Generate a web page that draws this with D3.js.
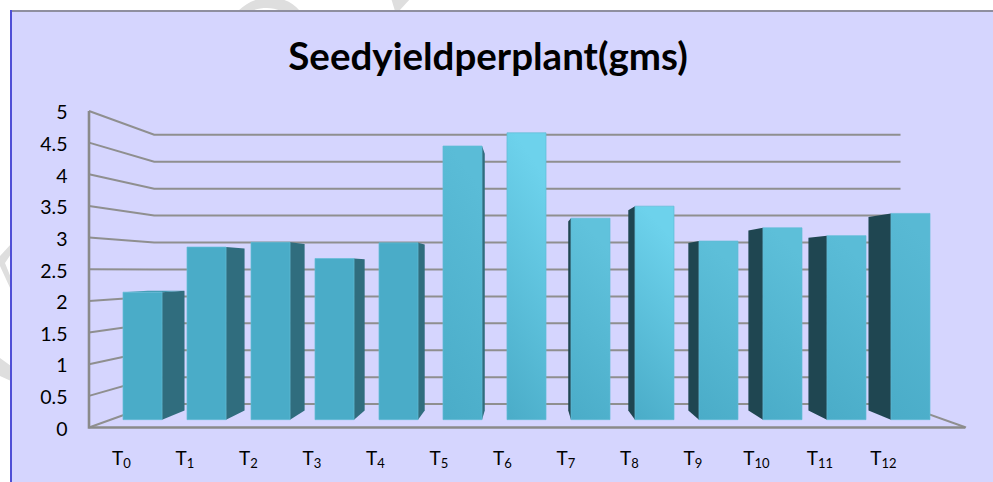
<!DOCTYPE html>
<html>
<head>
<meta charset="utf-8">
<script src="https://cdn.jsdelivr.net/npm/d3@7"></script>
<style>
html, body { margin: 0; padding: 0; background: #fff; }
svg { display: block; }
text { font-family: Lato, "Open Sans", sans-serif; fill: #000; }
</style>
</head>
<body>
<script>
const titleText = "Seedyieldperplant(gms)";
const treatments = ["0", "1", "2", "3", "4", "5", "6", "7", "8", "9", "10", "11", "12"];
const seedYield = [2.12, 2.87, 2.95, 2.68, 2.94, 4.55, 4.77, 3.35, 3.55, 2.97, 3.19, 3.06, 3.43];
const yTicks = [0, 0.5, 1, 1.5, 2, 2.5, 3, 3.5, 4, 4.5, 5];

// colour at the top of each bar's gradient
const barTopShade = ["#4aacc8", "#4aacc8", "#4aacc8", "#4aacc8", "#4aacc8", "#5abcd7", "#6dd2ec",
    "#60c2dc", "#6dd2ec", "#5dbfd9", "#5dbfd9", "#5abcd7", "#58b9d4"];

const width = 993, height = 482;

// One point perspective, everything recedes to this point
const vanish = { x: 526.5, y: 270.6 };
const wallDepth = 0.851;    // back wall
const barFront = 0.95;      // front face of the bars
const barBack = 0.8914;     // back face of the bars

function project(x, y, s) {
    return [vanish.x + (x - vanish.x) * s, vanish.y + (y - vanish.y) * s];
}

// x is already in front face pixels here, y comes from the front plane scale
function barPoint(x, yPos, s) {
    return [vanish.x + (x - vanish.x) * s / barFront, vanish.y + (yPos - vanish.y) * s];
}

const svg = d3.select("body").append("svg")
    .attr("width", width)
    .attr("height", height);

// Faint watermark showing through on the white margin
svg.append("g").attr("fill", "#dedede")
    .selectAll("path")
    .data([
        "M238,11 C248,2 256,-2 270,-2 C284,-2 292,2 300,11 L281,11 C272,7 262,7 251,11 Z",
        "M391,-2 L411,-2 L399,11 L395,11 Z",
        "M11,244 L0,256 L0,266 L11,290 L11,278 L5,263 L11,254 Z",
        "M0,358 L11,366 L11,381 L0,376 Z"
    ])
    .join("path")
    .attr("d", d => d);

// Chart panel
svg.append("rect")
    .attr("x", 11).attr("y", 11)
    .attr("width", width - 11).attr("height", height - 11)
    .attr("fill", "#d5d5fe");
svg.append("line")
    .attr("x1", 10).attr("x2", width).attr("y1", 11).attr("y2", 11)
    .attr("stroke", "#8f8f9f").attr("stroke-width", 2);
svg.append("line")
    .attr("x1", 11).attr("x2", 11).attr("y1", 10).attr("y2", height)
    .attr("stroke", "#4f4fd6").attr("stroke-width", 2);

svg.append("text")
    .attr("x", 488).attr("y", 70)
    .attr("text-anchor", "middle")
    .attr("font-size", 38.5)
    .attr("font-weight", 700)
    .text(titleText);

// Scales are set on the front plane of the box
const y = d3.scaleLinear().domain([0, 5]).range([427.5, 111]);
const frontLeft = 89, frontRight = 966;

const xBar = d3.scaleBand()
    .domain(treatments)
    .range([123, 930])
    .paddingInner(0.39);

const xLabel = d3.scalePoint()
    .domain(treatments)
    .range([121, 883]);

// Gridlines along left wall and back wall
const wallLine = d3.line();
svg.append("g").selectAll("path")
    .data(yTicks)
    .join("path")
    .attr("fill", "none")
    .attr("stroke", "#8f8f8f")
    .attr("stroke-width", 2)
    .attr("d", d => {
        let back = project(frontLeft, y(d), wallDepth);
        let backEnd = project(frontRight, y(d), wallDepth);
        return wallLine([[frontLeft, y(d)], back, backEnd]);
    });

// Floor
svg.append("path")
    .attr("fill", "none")
    .attr("stroke", "#8f8f8f")
    .attr("stroke-width", 2)
    .attr("d", wallLine([project(frontRight, y(0), wallDepth), [frontRight, y(0)]]));

svg.append("path")
    .attr("fill", "none")
    .attr("stroke", "#8a8a8a")
    .attr("stroke-width", 2.6)
    .attr("d", wallLine([[frontLeft, y(5)], [frontLeft, y(0)], [frontRight - 1, y(0)]]));

// Bar gradients
const defs = svg.append("defs");
treatments.forEach((t, i) => {
    let grad = defs.append("linearGradient")
        .attr("id", "barGrad" + i)
        .attr("x1", 0.2).attr("y1", 0).attr("x2", 0).attr("y2", 1);
    grad.append("stop").attr("offset", 0).attr("stop-color", barTopShade[i]);
    grad.append("stop").attr("offset", 1).attr("stop-color", "#4aacc8");
});

const bars = svg.append("g").selectAll("g")
    .data(seedYield.map((v, i) => ({ t: treatments[i], v: v, i: i })))
    .join("g");

function polygon(pts) {
    return pts.map(p => p.join(",")).join(" ");
}

// Side face, the side facing the vanishing point is the one that shows
bars.append("polygon")
    .attr("fill", d => xBar(d.t) + xBar.bandwidth() < vanish.x ? "#306d7e" : "#1f4651")
    .attr("points", d => {
        let left = xBar(d.t) + xBar.bandwidth() < vanish.x;
        let x = left ? xBar(d.t) + xBar.bandwidth() : xBar(d.t);
        return polygon([
            barPoint(x, y(d.v), barFront),
            barPoint(x, y(d.v), barBack),
            barPoint(x, y(0), barBack),
            barPoint(x, y(0), barFront)
        ]);
    });

// Top face, only seen on bars lower than the eye line
bars.filter(d => y(d.v) > vanish.y)
    .append("polygon")
    .attr("fill", "#3f96ae")
    .attr("points", d => {
        let x0 = xBar(d.t), x1 = x0 + xBar.bandwidth();
        return polygon([
            barPoint(x0, y(d.v), barFront),
            barPoint(x1, y(d.v), barFront),
            barPoint(x1, y(d.v), barBack),
            barPoint(x0, y(d.v), barBack)
        ]);
    });

// Front face
bars.append("polygon")
    .attr("fill", d => "url(#barGrad" + d.i + ")")
    .attr("stroke", "#62bcd6")
    .attr("stroke-width", 0.7)
    .attr("points", d => {
        let x0 = xBar(d.t), x1 = x0 + xBar.bandwidth();
        let top = barPoint(x0, y(d.v), barFront)[1];
        let bottom = barPoint(x0, y(0), barFront)[1];
        return polygon([[x0, top], [x1, top], [x1, bottom], [x0, bottom]]);
    });

// Axis labels
const yAxis = svg.append("g")
    .attr("transform", "translate(67.5,1.5)")
    .call(d3.axisLeft(y).tickValues(yTicks).tickSize(0).tickPadding(0).tickFormat(d => String(d)));
yAxis.select(".domain").remove();
yAxis.selectAll("text")
    .attr("font-size", 19.5)
    .attr("fill", "#000")
    .style("font-family", "Lato, sans-serif");

const xAxis = svg.append("g")
    .attr("transform", "translate(0,451)")
    .call(d3.axisBottom(xLabel).tickSize(0).tickPadding(0));
xAxis.select(".domain").remove();
xAxis.selectAll("text")
    .style("font-family", "Lato, sans-serif")
    .attr("font-size", 19)
    .attr("fill", "#000")
    .text("T")
    .append("tspan")
    .attr("font-size", 13)
    .attr("dy", 4)
    .text(d => d);
</script>
</body>
</html>
